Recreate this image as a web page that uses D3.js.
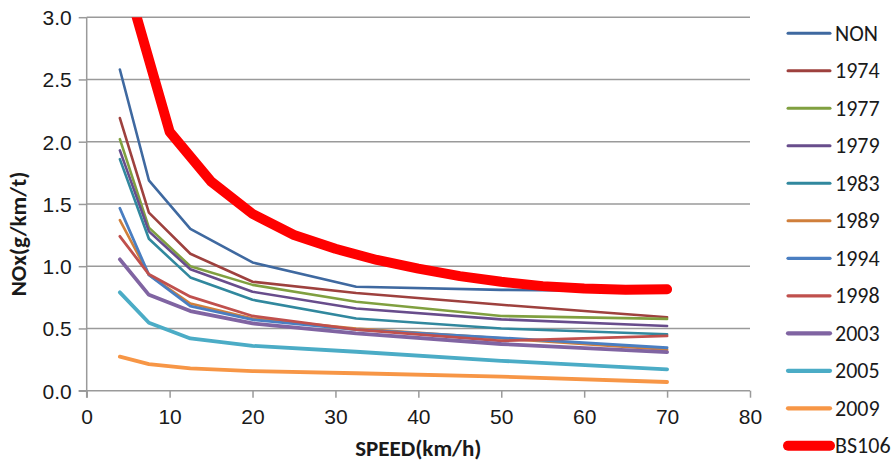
<!DOCTYPE html>
<html><head><meta charset="utf-8">
<script src="https://cdn.jsdelivr.net/npm/d3@7/dist/d3.min.js"></script>
<style>
html,body{margin:0;padding:0;background:#fff;}
svg{display:block;font-family:"Carlito","Liberation Sans",Arial,sans-serif;}
</style></head>
<body><svg id="c" width="893" height="462"></svg>
<script>
// ---- data ----
const speeds = [4, 7.5, 12.5, 20, 32.5, 50, 70];
const seriesNames = ["NON","1974","1977","1979","1983","1989","1994","1998","2003","2005","2009"];
const sNON  = [2.58, 1.69, 1.30, 1.03, 0.835, 0.81, 0.80];
const s1974 = [2.19, 1.43, 1.10, 0.875, 0.785, 0.69, 0.59];
const s1977 = [2.02, 1.31, 1.00, 0.85, 0.715, 0.60, 0.577];
const s1979 = [1.93, 1.28, 0.975, 0.795, 0.66, 0.573, 0.52];
const s1983 = [1.86, 1.22, 0.91, 0.73, 0.58, 0.50, 0.453];
const s1989 = [1.37, 0.93, 0.70, 0.58, 0.50, 0.42, 0.33];
const s1994 = [1.465, 0.93, 0.68, 0.57, 0.49, 0.425, 0.345];
const s1998 = [1.24, 0.935, 0.755, 0.60, 0.49, 0.40, 0.44];
const s2003 = [1.055, 0.77, 0.64, 0.54, 0.46, 0.375, 0.31];
const s2005 = [0.79, 0.546, 0.42, 0.36, 0.313, 0.24, 0.172];
const s2009 = [0.273, 0.214, 0.18, 0.158, 0.14, 0.113, 0.07];
const bsName = "BS106";
const bsSpeeds = [5, 10, 15, 20, 25, 30, 35, 40, 45, 50, 55, 60, 65, 70];
const bs106 = [3.24, 2.08, 1.68, 1.42, 1.25, 1.14, 1.05, 0.98, 0.92, 0.875, 0.84, 0.82, 0.81, 0.815];
const xTicks = [0, 10, 20, 30, 40, 50, 60, 70, 80];
const yTicks = [0, 0.5, 1.0, 1.5, 2.0, 2.5, 3.0];
const xTitle = "SPEED(km/h)";
const yTitle = "NOx(g/km/t)";

// ---- styles ----
const colors = ["#3F69A0","#9E413E","#80A040","#684D8C","#31889E","#D07F3B","#4A7EC1","#C0504D","#8064A2","#4BACC6","#F79646"];
const widths = [2.6,2.6,2.6,2.6,2.6,2.6,2.8,2.8,3.8,3.8,3.8];
const bsColor = "#FF0000", bsWidth = 10;

const svg = d3.select("#c");
const L = 86.7, R = 750, T = 17.2, B = 390.7;
const x = d3.scaleLinear().domain([0, 80]).range([L, R]);
const y = d3.scaleLinear().domain([0, 3]).range([B, T]);
const gridColor = "#9a9a9a";
const textColor = "#1a1a1a";

// gridlines
svg.append("g").selectAll("line").data(yTicks.filter(d => d > 0)).join("line")
  .attr("x1", L).attr("x2", R).attr("y1", d => y(d)).attr("y2", d => y(d))
  .attr("stroke", gridColor).attr("stroke-width", 1.5);

// axes
const xAxis = d3.axisBottom(x).tickValues(xTicks).tickSize(7).tickPadding(8).tickFormat(d3.format("d"));
const gx = svg.append("g").attr("transform", `translate(0,${B})`).call(xAxis);
const yAxis = d3.axisLeft(y).tickValues(yTicks).tickSize(8).tickPadding(7).tickFormat(d3.format(".1f"));
const gy = svg.append("g").attr("transform", `translate(${L},0)`).call(yAxis);
[gx, gy].forEach(g => {
  g.select(".domain").attr("stroke", gridColor).attr("stroke-width", 1.5);
  g.selectAll(".tick line").attr("stroke", gridColor).attr("stroke-width", 1.5);
  g.selectAll(".tick text").attr("fill", textColor).style("font-size", "21px");
});
gy.select(".domain").attr("d", `M0,${T}V${B + 7}`);
gx.select(".domain").attr("d", `M${L - 8},0H${R}`);
gx.selectAll(".tick text").attr("dy", "0.85em");
gy.selectAll(".tick text").attr("dy", "0.35em");

// clip
svg.append("clipPath").attr("id", "clip").append("rect")
  .attr("x", L - 20).attr("y", T).attr("width", R - L + 40).attr("height", B - T + 20);

const line = d3.line().x(d => x(d[0])).y(d => y(d[1]));
const allSeries = [sNON, s1974, s1977, s1979, s1983, s1989, s1994, s1998, s2003, s2005, s2009];
const plot = svg.append("g").attr("clip-path", "url(#clip)");
allSeries.forEach((vals, i) => {
  plot.append("path").datum(speeds.map((s, j) => [s, vals[j]]))
    .attr("d", line).attr("fill", "none").attr("stroke", colors[i])
    .attr("stroke-width", widths[i]).attr("stroke-linejoin", "round").attr("stroke-linecap", "round");
});
plot.append("path").datum(bsSpeeds.map((s, j) => [s, bs106[j]]))
  .attr("d", line).attr("fill", "none").attr("stroke", bsColor)
  .attr("stroke-width", bsWidth).attr("stroke-linejoin", "round").attr("stroke-linecap", "round");

// titles
svg.append("text").attr("x", (L + R) / 2).attr("y", 456).attr("text-anchor", "middle")
  .attr("font-weight", "bold").attr("fill", textColor).style("font-size", "23px").text(xTitle);
svg.append("text").attr("transform", "translate(26,234) rotate(-90)").attr("text-anchor", "middle")
  .attr("font-weight", "bold").attr("fill", textColor).style("font-size", "23px").text(yTitle);

// legend
const legNames = seriesNames.concat([bsName]);
const legColors = colors.concat([bsColor]);
const legWidths = widths.map(w => w + 0.4).concat([bsWidth]);
const lg = svg.append("g");
legNames.forEach((n, i) => {
  const yy = 33.3 + i * 37.5;
  lg.append("line").attr("x1", 788).attr("x2", 830).attr("y1", yy).attr("y2", yy)
    .attr("stroke", legColors[i]).attr("stroke-width", legWidths[i]).attr("stroke-linecap", "round");
  lg.append("text").attr("x", 835).attr("y", yy).attr("dy", "0.34em")
    .attr("fill", textColor).style("font-size", "22px").text(n);
});
</script></body></html>
